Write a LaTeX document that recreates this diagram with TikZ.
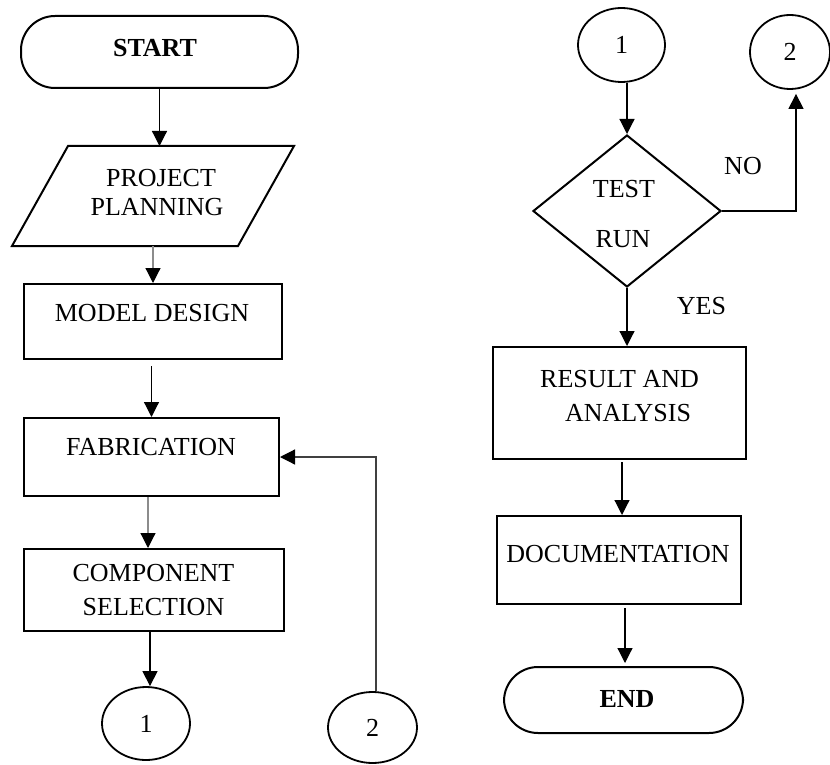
\documentclass[tikz,border=0pt]{standalone}
\usepackage{fontspec}
\setmainfont{Liberation Serif}
\usetikzlibrary{arrows.meta,shapes.geometric}
\begin{document}
\begin{tikzpicture}[x=1pt,y=-1pt,
  box/.style={draw, line width=2pt, rectangle, inner sep=0pt},
  term/.style={box, rounded corners=34pt},
  conn/.style={draw, ellipse, line width=1.8pt, inner sep=0pt,
    font=\fontsize{26}{30}\selectfont},
  decide/.style={draw, diamond, line width=2pt, inner sep=0pt},
  txt/.style={inner sep=0pt, text height=17.2pt, text depth=0pt,
    font=\fontsize{26}{30}\selectfont},
  arr/.style={line width=1.2pt, -{Triangle[width=15pt,length=15pt]}},
  garr/.style={line width=1.2pt, draw=black!45,
    -{Triangle[width=15pt,length=15pt,color=black]}},
]
\useasboundingbox (0,0) rectangle (830,765);

% ---------- left column ----------
\node[term, minimum width=277pt, minimum height=72pt] (start) at (159.5,52) {};
\node[txt, font=\fontsize{26}{30}\selectfont\bfseries] (t-start) at (155,47.5) {START};

\coordinate (pp1) at (68,146);
\coordinate (pp2) at (294,146);
\coordinate (pp3) at (238,246);
\coordinate (pp4) at (12,246);
\draw[line width=2pt, line join=miter] (pp1) -- (pp2) -- (pp3) -- (pp4) -- cycle;
\node[txt] (t-plan1) at (161,177.5) {PROJECT};
\node[txt] (t-plan2) at (157,206.5) {PLANNING};

\node[box, minimum width=258pt, minimum height=75pt] (model) at (153,321.5) {};
\node[txt] (t-model) at (152,312.5) {MODEL DESIGN};

\node[box, minimum width=255pt, minimum height=78pt] (fab) at (151.5,457) {};
\node[txt] (t-fab) at (151,447) {FABRICATION};

\node[box, minimum width=260pt, minimum height=82pt] (comp) at (154,590) {};
\node[txt] (t-comp1) at (153.5,573) {COMPONENT};
\node[txt] (t-comp2) at (153.5,607) {SELECTION};

\node[conn, minimum width=88pt, minimum height=73pt] (c1L) at (146,723.5) {1};
\node[conn, minimum width=89pt, minimum height=71pt] (c2L) at (372.5,727.5) {2};

% left connectors
\draw[arr] (start.south) -- (start.south |- pp1);
\draw[garr] (model.north |- pp4) -- (model.north);
\draw[arr, shorten <=6pt] (fab.north |- model.south) -- (fab.north);
\draw[garr] ([xshift=-3.5pt]fab.south) -- ([xshift=-3.5pt]fab.south |- comp.north);
\draw[arr] ([xshift=-4pt]comp.south) -- ([xshift=-4pt]comp.south |- c1L.north);
\draw[arr, draw=black!75, -{Triangle[width=15pt,length=15pt,color=black]}]
  ([xshift=3.5pt]c2L.north) |- (fab.east);

% ---------- right column ----------
\node[conn, minimum width=87pt, minimum height=74pt] (c1R) at (621.5,45) {1};
\node[conn, minimum width=80pt, minimum height=74pt] (c2R) at (790,52) {2};

\node[decide, minimum width=188pt, minimum height=152pt] (test) at (627,211) {};
\node[txt] (t-test1) at (624,189) {TEST};
\node[txt] (t-test2) at (623,239) {RUN};
\node[txt] (t-no) at (743,166) {NO};
\node[txt] (t-yes) at (701.5,306) {YES};

\node[box, minimum width=253pt, minimum height=112pt] (result) at (619.5,403) {};
\node[txt] (t-res1) at (619.5,379) {RESULT AND};
\node[txt] (t-res2) at (628,413) {ANALYSIS};

\node[box, minimum width=244pt, minimum height=88pt] (doc) at (619,560) {};
\node[txt] (t-doc) at (618,554) {DOCUMENTATION};

\node[term, minimum width=239pt, minimum height=66pt] (end) at (623.5,700) {};
\node[txt, font=\fontsize{26}{30}\selectfont\bfseries] (t-end) at (627,698.5) {END};

% right connectors
\draw[arr] (test.north |- c1R.south) -- (test.north);
\draw[arr, shorten >=4pt] (test.east) -| ([xshift=6pt]c2R.south);
\draw[arr] (test.south) -- (test.south |- result.north);
\draw[arr, shorten <=2pt] ([xshift=2.5pt]result.south) -- ([xshift=2.5pt]result.south |- doc.north);
\draw[arr, shorten <=3pt, shorten >=3pt] ([xshift=6pt]doc.south) -- ([xshift=6pt]doc.south |- end.north);
\end{tikzpicture}
\end{document}
